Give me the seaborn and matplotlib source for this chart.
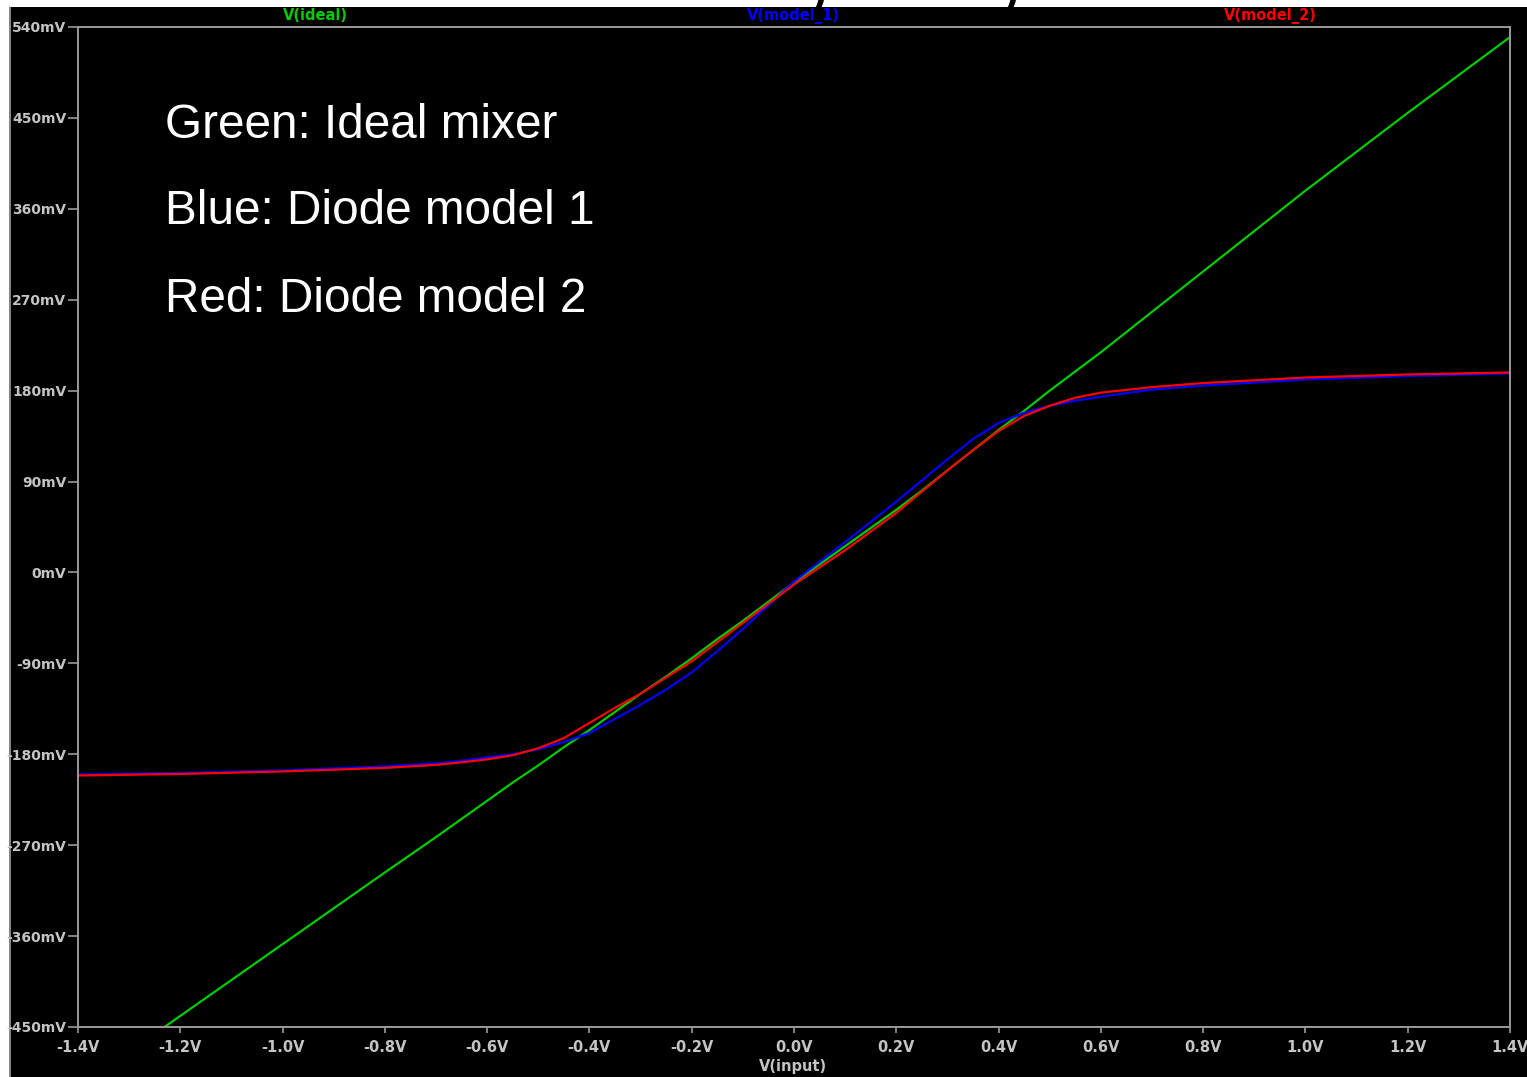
import matplotlib
matplotlib.use("Agg")
import matplotlib.pyplot as plt
from matplotlib.patches import Rectangle
from matplotlib.lines import Line2D
import seaborn as sns
import pandas as pd

# Sweep of the input voltage (V)
v_input = [-1.4, -1.2, -1.0, -0.8, -0.7, -0.65, -0.6, -0.55, -0.5, -0.45, -0.4, -0.35,
           -0.3, -0.25, -0.2, -0.15, -0.1, 0.0, 0.1, 0.2, 0.25, 0.3, 0.35,
           0.4, 0.45, 0.5, 0.55, 0.6, 0.7, 0.8, 1.0, 1.2, 1.4]

# Output voltages (mV) of the three circuits
ideal_mv = [-510, -439, -368, -297, -262, -244, -226, -208, -191, -173, -156, -138,
            -120, -103, -85, -66, -48, -10, 26, 62, 81, 101, 121,
            141, 160, 180, 199, 218, 258, 298, 378, 455, 530]
model_1_mv = [-200, -198.5, -196, -192, -189, -186.5, -183, -180, -175, -168, -159, -145,
              -131, -116, -99, -78, -56, -9, 30, 70, 91, 112, 132,
              148, 158, 165, 170, 174, 181, 185, 191, 194.5, 197]
model_2_mv = [-201, -199.5, -197, -193.5, -190.5, -188, -185, -181, -174, -164, -149, -134,
              -120, -104, -88, -69, -50, -12, 22, 59, 80, 101, 121,
              140, 155, 165, 173, 178, 183.5, 187.5, 193, 196, 198]

trace_names = ["V(ideal)", "V(model_1)", "V(model_2)"]
trace_colors = ["#00cc00", "#0000ff", "#ff0000"]

x_ticks = [-1.4, -1.2, -1.0, -0.8, -0.6, -0.4, -0.2, 0.0, 0.2, 0.4, 0.6, 0.8, 1.0, 1.2, 1.4]
x_tick_labels = ["-1.4V", "-1.2V", "-1.0V", "-0.8V", "-0.6V", "-0.4V", "-0.2V", "0.0V",
                 "0.2V", "0.4V", "0.6V", "0.8V", "1.0V", "1.2V", "1.4V"]
y_ticks = [540, 450, 360, 270, 180, 90, 0, -90, -180, -270, -360, -450]
y_tick_labels = ["540mV", "450mV", "360mV", "270mV", "180mV", "90mV", "0mV",
                 "-90mV", "-180mV", "-270mV", "-360mV", "-450mV"]

notes = ["Green: Ideal mixer", "Blue: Diode model 1", "Red: Diode model 2"]

df = pd.DataFrame({
    "v": v_input * 3,
    "mv": ideal_mv + model_1_mv + model_2_mv,
    "trace": [trace_names[0]] * len(v_input) + [trace_names[1]] * len(v_input)
             + [trace_names[2]] * len(v_input),
})

sns.set_style("dark", {"axes.facecolor": "black", "figure.facecolor": "white",
                       "xtick.bottom": True, "ytick.left": True})
plt.rcParams["font.family"] = ["DejaVu Sans"]

W, H = 1527, 1077
fig = plt.figure(figsize=(W / 100, H / 100), dpi=100)
fig.patch.set_facecolor("white")

# black window area with a thin grey left border, kept behind the axes
fig.patches.append(Rectangle((9 / W, 0), 1, 1 - 7 / H, transform=fig.transFigure,
                             facecolor="black", edgecolor="none", zorder=-5))
fig.lines.append(Line2D([9.5 / W, 9.5 / W], [0, 1 - 7 / H], transform=fig.transFigure,
                        color="#a0a0a0", linewidth=1.2, zorder=-4))

# heading glyph tails peeking in at the top edge
for xp in (820, 1012):
    fig.text(xp / W, 1 - 12 / H, ")", color="black", fontsize=30, fontweight="bold",
             family="Liberation Sans", ha="center", va="bottom", zorder=-3)

ax = fig.add_axes([78 / W, 1 - 1027 / H, (1510 - 78) / W, 1000 / H])
ax.set_facecolor("black")

sns.lineplot(data=df, x="v", y="mv", hue="trace", hue_order=trace_names,
             palette=dict(zip(trace_names, trace_colors)), legend=False,
             linewidth=1.6, ax=ax, estimator=None, sort=True)

ax.set_xlim(-1.4, 1.4)
ax.set_ylim(-450, 540)
ax.grid(False)

frame = "#9a9a9a"
for s in ax.spines.values():
    s.set_visible(True)
    s.set_color(frame)
    s.set_linewidth(1.4)

ax.set_xticks(x_ticks)
ax.set_xticklabels(x_tick_labels)
ax.set_yticks(y_ticks)
ax.set_yticklabels(y_tick_labels)
ax.tick_params(axis="y", left=True, direction="out", length=7.5, width=1.2, color=frame,
               pad=1, labelsize=10, labelcolor="#c4c4c4")
ax.tick_params(axis="x", bottom=True, direction="out", length=4.5, width=1.2, color=frame,
               pad=5, labelsize=10.5, labelcolor="#c4c4c4")
for lab in ax.get_xticklabels() + ax.get_yticklabels():
    lab.set_fontweight("bold")

ax.set_xlabel("")
ax.set_ylabel("")
fig.text(793 / W, 1 - 1066 / H, "V(input)", color="#c4c4c4", fontsize=10.5,
         fontweight="bold", ha="center", va="center")

# trace names along the top
for name, col, xp in zip(trace_names, trace_colors, (315, 793, 1270)):
    fig.text(xp / W, 1 - 16 / H, name, color=col, fontsize=10.5, fontweight="bold",
             ha="center", va="center")

# annotation block
for note, yp in zip(notes, (126, 212, 299)):
    ax.text((165 - 78) / 1432, (1027 - yp) / 1000, note, transform=ax.transAxes,
            color="white", fontsize=34.4, family="Liberation Sans",
            ha="left", va="center")

fig.savefig("out.png", dpi=100, facecolor=fig.get_facecolor())
